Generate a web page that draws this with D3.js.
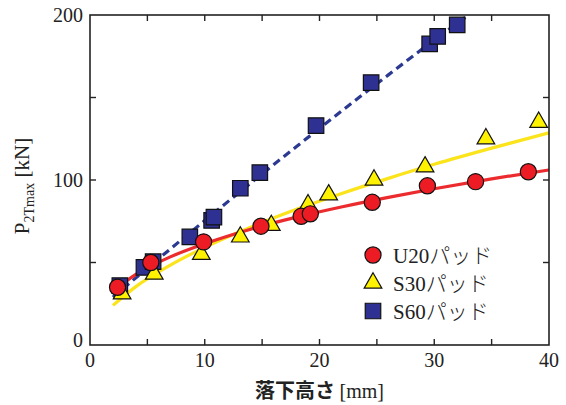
<!DOCTYPE html>
<html>
<head>
<meta charset="utf-8">
<script src="https://cdn.jsdelivr.net/npm/d3@7"></script>
<style>
body { margin: 0; background: #fff; }
svg text { font-family: "Liberation Serif", "DejaVu Serif", serif; }
</style>
</head>
<body>
<div class="chart"></div>
<script>
// measured points
const u20X = [2.4, 5.3, 9.9, 14.9, 18.4, 19.2, 24.6, 29.4, 33.6, 38.2];
const u20Y = [35, 50, 62.5, 72, 78, 79.5, 86.5, 96.5, 99, 105];
const s30X = [2.8, 5.6, 9.7, 13.1, 15.8, 19.0, 20.8, 24.75, 29.2, 34.5, 39.1];
const s30Y = [31, 43, 55, 65.5, 72.5, 85, 91, 100, 108, 125, 135];
const s60X = [2.6, 4.7, 5.5, 8.7, 10.6, 10.8, 13.1, 14.8, 19.7, 24.5, 29.6, 30.3, 32.0];
const s60Y = [36, 47, 50.5, 65.5, 75.5, 77.5, 95, 104.5, 133, 159, 182.5, 187, 194];

// fitted curves
const fitX = [2, 4, 7, 10, 14, 18, 22, 26, 30, 35, 40];
const u20FitY = [32.6, 42.8, 53.4, 61.4, 70.2, 77.5, 83.8, 89.5, 94.7, 100.7, 106.1];
const s30FitY = [24.0, 35.4, 48.4, 59.2, 71.4, 82.2, 92.0, 101.0, 109.5, 119.3, 128.6];
const s60FitX = [2, 6, 10, 14, 18, 22, 26, 30, 33];
const s60FitY = [29, 52.4, 75.4, 98.1, 120.3, 142.2, 163.7, 184.8, 200];

const xTicks = [0, 10, 20, 30, 40];
const xMinor = [5, 15, 25, 35];
const yTicks = [0, 100, 200];
const yMinor = [50, 150];

const legendNames = ["U20パッド", "S30パッド", "S60パッド"];

const width = 566, height = 405;
const margin = {top: 15, right: 17, bottom: 60, left: 90};

const svg = d3.select('.chart')
    .append('svg')
    .attr("width", width)
    .attr("height", height);

const x = d3.scaleLinear().domain([0, 40]).range([margin.left, width - margin.right]);
const y = d3.scaleLinear().domain([0, 200]).range([height - margin.bottom, margin.top]);

const zip = (xs, ys) => xs.map((v, i) => [v, ys[i]]);

const clip = svg.append("clipPath").attr("id", "plot")
    .append("rect")
    .attr("x", x(0)).attr("y", y(200))
    .attr("width", x(40) - x(0)).attr("height", y(0) - y(200));

const line = d3.line()
    .x(d => x(d[0]))
    .y(d => y(d[1]))
    .curve(d3.curveMonotoneX);

const plot = svg.append("g").attr("clip-path", "url(#plot)");

// S60
plot.append("path")
    .datum(zip(s60FitX, s60FitY))
    .attr("fill", "none")
    .attr("stroke", "#2b3990")
    .attr("stroke-width", 3.2)
    .attr("stroke-dasharray", "8,5")
    .attr("d", line);

const sq = d3.symbol().type(d3.symbolSquare).size(240);
const tri = d3.symbol().type(d3.symbolTriangle).size(135);
const circ = d3.symbol().type(d3.symbolCircle).size(205);

svg.selectAll(".s60")
    .data(zip(s60X, s60Y))
    .join("path")
    .attr("class", "s60")
    .attr("d", sq)
    .attr("transform", d => `translate(${x(d[0])},${y(d[1])})`)
    .attr("fill", "#2e3192")
    .attr("stroke", "#111")
    .attr("stroke-width", 1.2);

// S30
plot.append("path")
    .datum(zip(fitX, s30FitY))
    .attr("fill", "none")
    .attr("stroke", "#fbe41c")
    .attr("stroke-width", 3.2)
    .attr("d", line);

svg.selectAll(".s30")
    .data(zip(s30X, s30Y))
    .join("path")
    .attr("class", "s30")
    .attr("d", tri)
    .attr("transform", d => `translate(${x(d[0])},${y(d[1])})`)
    .attr("fill", "#fff200")
    .attr("stroke", "#111")
    .attr("stroke-width", 1.2);

// U20
plot.append("path")
    .datum(zip(fitX, u20FitY))
    .attr("fill", "none")
    .attr("stroke", "#ec2b2e")
    .attr("stroke-width", 3.2)
    .attr("d", line);

svg.selectAll(".u20")
    .data(zip(u20X, u20Y))
    .join("path")
    .attr("class", "u20")
    .attr("d", circ)
    .attr("transform", d => `translate(${x(d[0])},${y(d[1])})`)
    .attr("fill", "#ed1c24")
    .attr("stroke", "#111")
    .attr("stroke-width", 1.2);

// frame and ticks
const axisColor = "#222";
svg.append("rect")
    .attr("x", x(0)).attr("y", y(200))
    .attr("width", x(40) - x(0)).attr("height", y(0) - y(200))
    .attr("fill", "none")
    .attr("stroke", axisColor)
    .attr("stroke-width", 1.6);

const tickLen = 6;
const allX = xTicks.concat(xMinor).filter(v => v > 0 && v < 40);
const allY = yTicks.concat(yMinor).filter(v => v > 0 && v < 200);

const ticks = svg.append("g").attr("stroke", axisColor).attr("stroke-width", 1.4);
allX.forEach(v => {
    ticks.append("line").attr("x1", x(v)).attr("x2", x(v)).attr("y1", y(0)).attr("y2", y(0) - tickLen);
    ticks.append("line").attr("x1", x(v)).attr("x2", x(v)).attr("y1", y(200)).attr("y2", y(200) + tickLen);
});
allY.forEach(v => {
    ticks.append("line").attr("y1", y(v)).attr("y2", y(v)).attr("x1", x(0)).attr("x2", x(0) + tickLen);
    ticks.append("line").attr("y1", y(v)).attr("y2", y(v)).attr("x1", x(40)).attr("x2", x(40) - tickLen);
});

svg.selectAll(".xlab")
    .data(xTicks)
    .join("text")
    .attr("class", "xlab")
    .attr("x", d => x(d))
    .attr("y", y(0) + 22)
    .attr("text-anchor", "middle")
    .attr("font-size", 20)
    .attr("fill", "#222")
    .text(d => d);

svg.selectAll(".ylab")
    .data(yTicks)
    .join("text")
    .attr("class", "ylab")
    .attr("x", x(0) - 7)
    .attr("y", d => d === 0 ? y(d) + 2 : y(d) + 7)
    .attr("text-anchor", "end")
    .attr("font-size", 20)
    .attr("fill", "#222")
    .text(d => d);

// axis titles
const xt = svg.append("text")
    .attr("x", (x(0) + x(40)) / 2)
    .attr("y", 398)
    .attr("text-anchor", "middle")
    .attr("font-size", 20)
    .attr("fill", "#222");
xt.append("tspan")
    .attr("font-family", "Noto Sans CJK JP")
    .attr("font-weight", "bold")
    .text("落下高さ ");
xt.append("tspan").text("[mm]");

const yt = svg.append("text")
    .attr("transform", `translate(29,${(y(0) + y(200)) / 2 + 6}) rotate(-90)`)
    .attr("text-anchor", "middle")
    .attr("font-size", 21)
    .attr("fill", "#222");
yt.append("tspan").text("P");
yt.append("tspan").attr("font-size", 14).attr("dy", 5).text("2Tmax");
yt.append("tspan").attr("dy", -5).text(" [kN]");

// legend
const legend = svg.append("g");
const legendSyms = [circ, tri, sq];
const legendFill = ["#ed1c24", "#fff200", "#2e3192"];
legendNames.forEach((name, i) => {
    const ly = 255 + i * 28;
    legend.append("path")
        .attr("d", legendSyms[i])
        .attr("transform", `translate(373,${ly})`)
        .attr("fill", legendFill[i])
        .attr("stroke", "#111")
        .attr("stroke-width", 1.2);
    const t = legend.append("text")
        .attr("x", 393)
        .attr("y", ly + 8)
        .attr("font-size", 21)
        .attr("fill", "#222");
    t.append("tspan").text(name.slice(0, 3));
    t.append("tspan").attr("font-family", "Noto Sans CJK JP").attr("font-weight", 300).text(name.slice(3));
});
</script>
</body>
</html>
